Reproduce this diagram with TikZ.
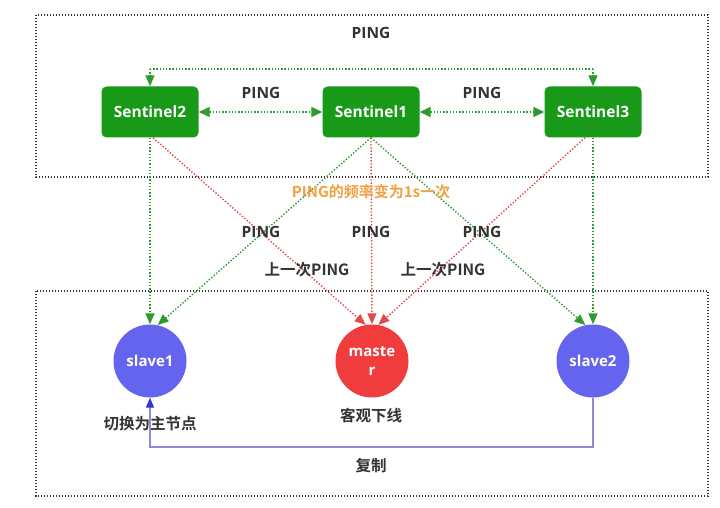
\documentclass[tikz,border=0pt]{standalone}
\usepackage{fontspec}
\setmainfont{Open Sans}
\newfontfamily\cjk{Noto Sans CJK SC}[BoldFont={Noto Sans CJK SC Bold}]
\usetikzlibrary{arrows.meta,shapes.geometric}
\definecolor{sgreen}{HTML}{189A18}
\definecolor{lgreen}{HTML}{2E9B2E}
\definecolor{lred}{HTML}{E04A4A}
\definecolor{sblue}{HTML}{6464EE}
\definecolor{sred}{HTML}{F03C3C}
\definecolor{lblue}{HTML}{8A8AD8}
\definecolor{ablue}{HTML}{3434D8}
\definecolor{orng}{HTML}{F0A040}
\definecolor{txt}{HTML}{333333}
\tikzset{
  sent/.style={draw=none,fill=sgreen,rounded corners=5pt,minimum width=97pt,minimum height=51pt,text=white,font=\bfseries\fontsize{15.5}{18}\selectfont},
  srv/.style={circle,draw=none,minimum size=73pt,inner sep=0pt,text=white,font=\bfseries\fontsize{15}{19}\selectfont,align=center},
  box/.style={draw=txt,line width=1.4pt,dash pattern=on 1.4pt off 1.6pt},
  gline/.style={draw=lgreen,line width=1.4pt,dash pattern=on 1.4pt off 1.8pt,-{Triangle[length=11pt,width=9pt]},color=lgreen},
  gdouble/.style={draw=lgreen,line width=1.4pt,dash pattern=on 1.4pt off 1.8pt,{Triangle[length=11pt,width=10pt]}-{Triangle[length=11pt,width=10pt]},color=lgreen},
  rline/.style={draw=lred,line width=1.4pt,dash pattern=on 1.4pt off 1.8pt,-{Triangle[length=11pt,width=9pt]},color=lred},
  lbl/.style={text=txt,font=\bfseries\fontsize{15.5}{18}\selectfont},
  clbl/.style={text=txt,font=\cjk\bfseries\fontsize{15.5}{18}\selectfont},
}
\begin{document}
\begin{tikzpicture}[x=1pt,y=-1pt]
\useasboundingbox (0,0) rectangle (720,508);
\fill[white] (0,0) rectangle (720,508);
\draw[box] (36,15) rectangle (708,177);
\draw[box] (36,291) rectangle (708,496);

\node[sent] (s2) at (150,112) {Sentinel2};
\node[sent] (s1) at (371,112) {Sentinel1};
\node[sent] (s3) at (593,112) {Sentinel3};

\node[srv,fill=sblue] (sl1) at (150,361) {slave1};
\node[srv,fill=sred] (m) at (372,361) {maste\\r};
\node[srv,fill=sblue] (sl2) at (593,361) {slave2};

\node[lbl] (ptop) at (371,33) {PING};
\node[lbl] (p21) at (261,93) {PING};
\node[lbl] (p13) at (482,93) {PING};

\coordinate (tl) at (150,69);
\coordinate (tr) at (593,69);
\draw[gline] (tl) -- (s2.north);
\draw[gline] (tr) -- (s3.north);
\draw[draw=lgreen,line width=1.4pt,dash pattern=on 1.4pt off 1.8pt] (tl) -- (tr);

\draw[gdouble] (s2.east) -- (s1.west);
\draw[gdouble] (s1.east) -- (s3.west);

\draw[gline] (s2.south) -- (sl1.north);
\draw[gline] (s1.south) -- (sl1.78);
\draw[gline] (s1.south) -- (sl2.102);
\draw[gline] (s3.south) -- (sl2.north);

\draw[rline] ([xshift=3pt]s2.south) -- (m.100);
\draw[rline] (s1.south) -- (m.north);
\draw[rline] ([xshift=-8pt]s3.south) -- (m.80);

\node[text=orng,font=\cjk\bfseries\fontsize{15}{18}\selectfont] (freq) at (371,192) {PING的频率变为1s一次};
\node[lbl] (pa) at (261,232) {PING};
\node[lbl] (pb) at (371,232) {PING};
\node[lbl] (pc) at (482,232) {PING};
\node[clbl] (la) at (307,270) {上一次PING};
\node[clbl] (lb) at (443,270) {上一次PING};

\node[clbl] (sw) at (150,424) {切换为主节点};
\node[clbl] (off) at (371,416) {客观下线};
\node[clbl] (cp) at (371,466) {复制};

\coordinate (c1) at (593,447);
\coordinate (c2) at (150,447);
\draw[draw=lblue,line width=1.3pt,-{Triangle[length=10pt,width=8pt,color=ablue]}] (sl2.south) -- (c1) -- (c2) -- (sl1.south);
\end{tikzpicture}
\end{document}
